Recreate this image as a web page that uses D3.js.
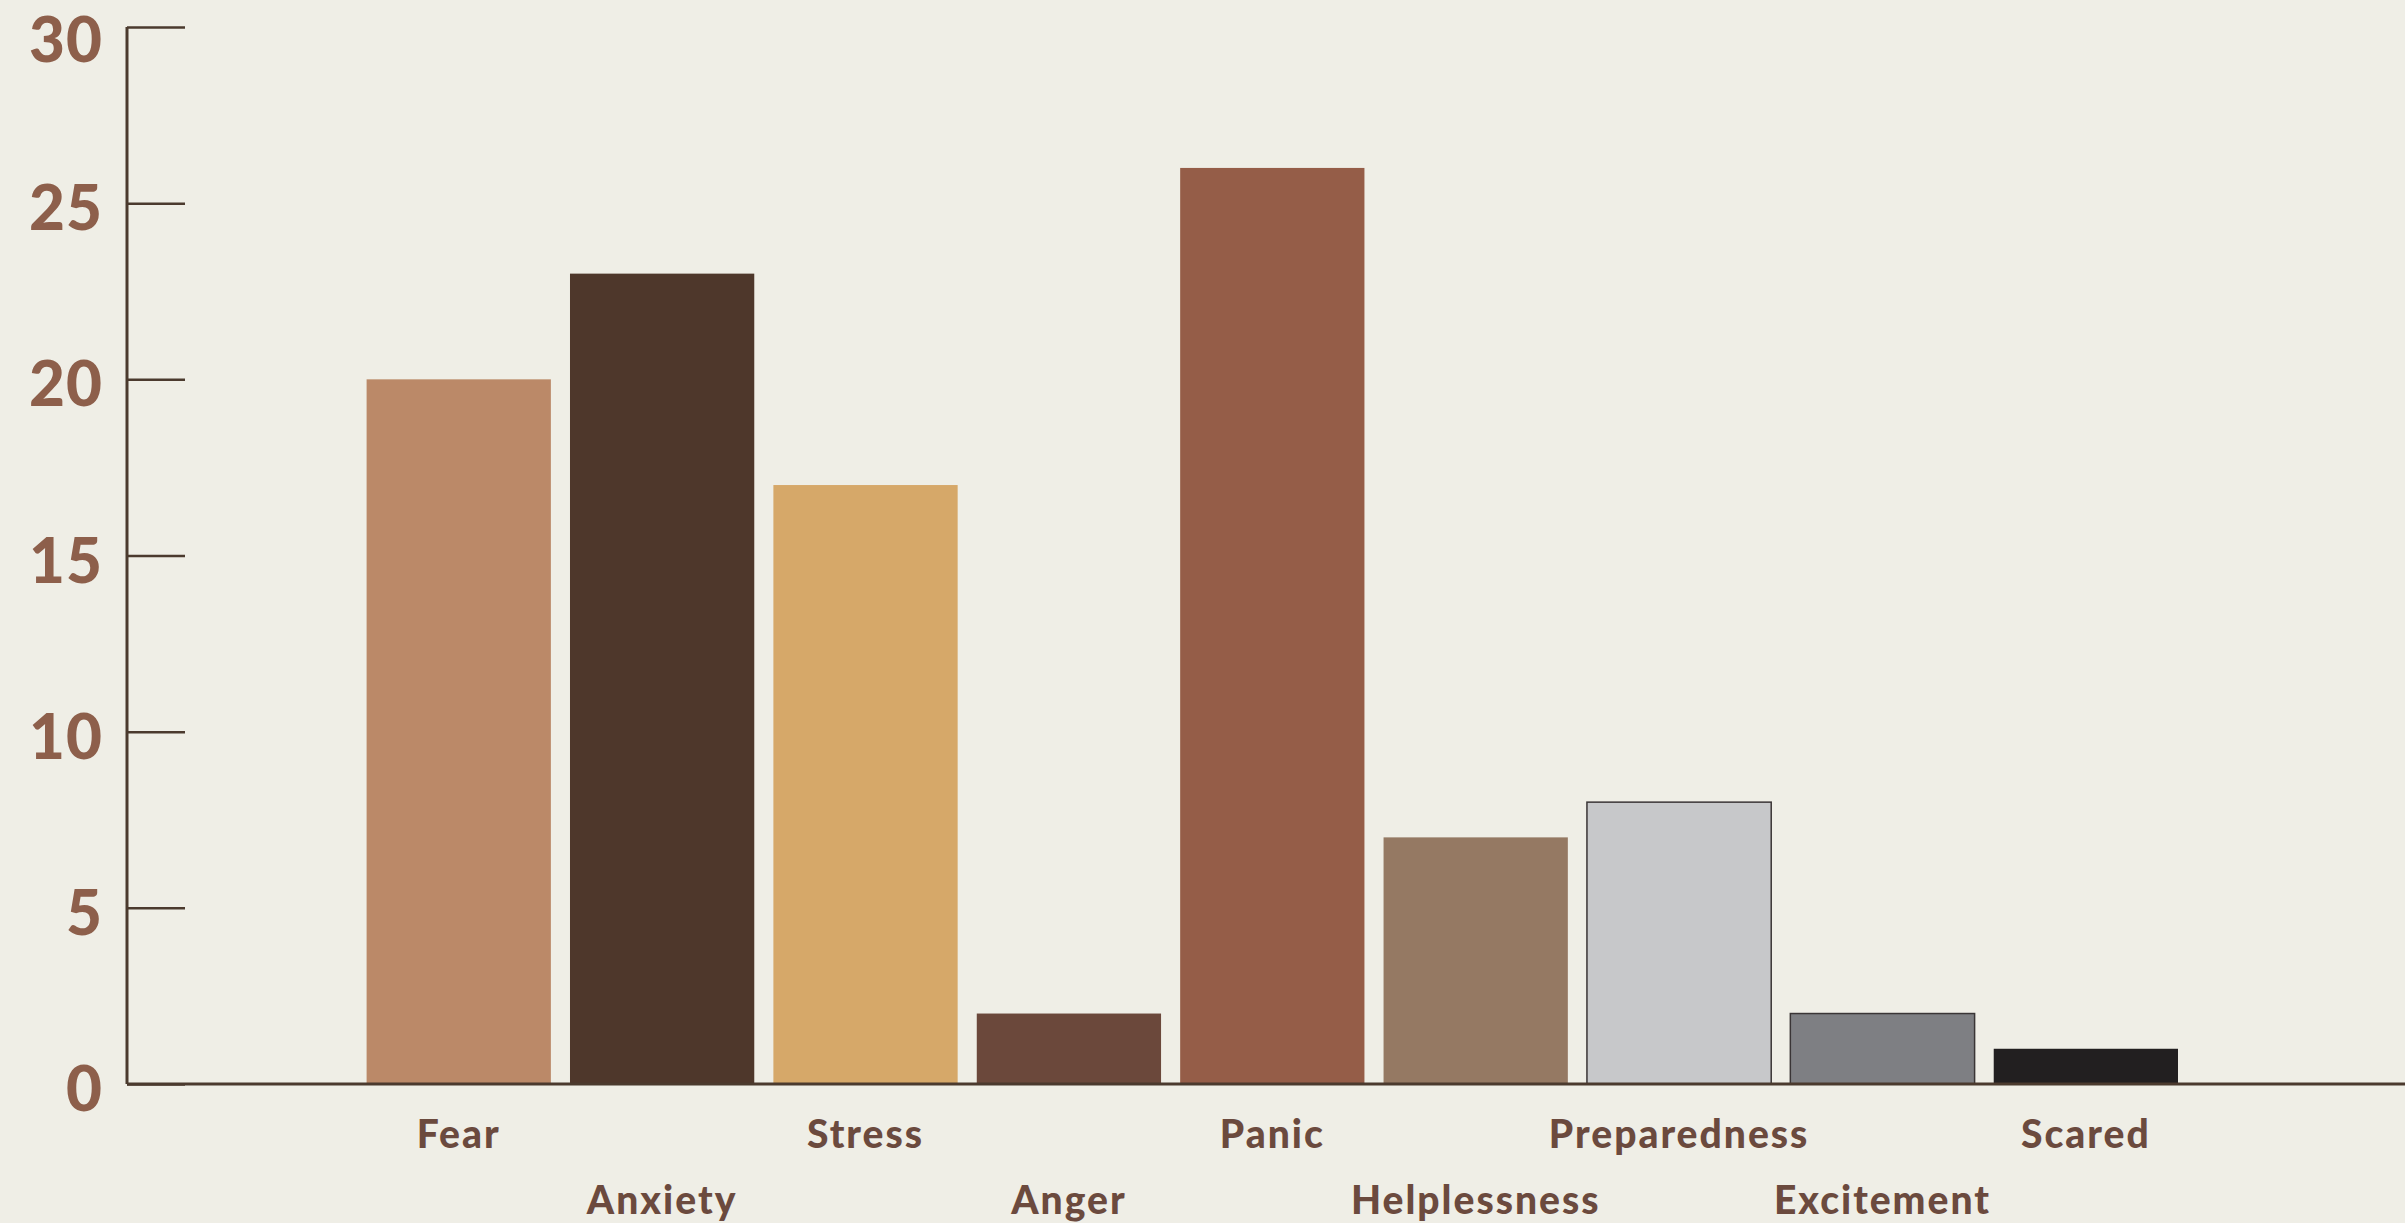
<!DOCTYPE html>
<html>
<head>
<meta charset="utf-8">
<script src="https://cdn.jsdelivr.net/npm/d3@7"></script>
<style>
  html, body { margin: 0; padding: 0; background: #EFEEE6; }
  svg { display: block; }
</style>
</head>
<body>
<svg id="chart" width="2405" height="1223"></svg>
<script>
const categories = ["Fear", "Anxiety", "Stress", "Anger", "Panic", "Helplessness", "Preparedness", "Excitement", "Scared"];
const values = [20, 23, 17, 2, 26, 7, 8, 2, 1];
const barColors = ["#BB8968", "#4E372B", "#D6A869", "#6B483B", "#955D48", "#957963", "#C7C8CA", "#7E7F83", "#221F20"];
const outlined = [false, false, false, false, false, false, true, true, false];
const yTicks = [0, 5, 10, 15, 20, 25, 30];

const W = 2405, H = 1223;
const svg = d3.select("#chart");
svg.append("rect").attr("width", W).attr("height", H).attr("fill", "#EFEEE6");

const axisX = 127, y0 = 1084, yTop = 27;
const x = d3.scaleBand().domain(categories).range([366.6, 2178]).paddingInner(0.094).paddingOuter(0);
const y = d3.scaleLinear().domain([0, 30]).range([y0, yTop]);

// bars
svg.append("g").selectAll("rect").data(categories).join("rect")
  .attr("x", d => x(d))
  .attr("y", (d, i) => y(values[i]))
  .attr("width", x.bandwidth())
  .attr("height", (d, i) => y0 - y(values[i]))
  .attr("fill", (d, i) => barColors[i])
  .attr("stroke", (d, i) => outlined[i] ? "#3a3536" : "none")
  .attr("stroke-width", 1.5);

const axisColor = "#4B3A2E";

// y axis (ticks pointing right, labels on left)
const yAxis = d3.axisRight(y).tickValues(yTicks).tickSize(58).tickFormat("");
const gy = svg.append("g").attr("transform", `translate(${axisX},0)`).call(yAxis);
gy.select(".domain").remove();
gy.selectAll(".tick line").attr("stroke", axisColor).attr("stroke-width", 2.5);
svg.append("line").attr("x1", axisX).attr("x2", axisX).attr("y1", yTop).attr("y2", y0)
  .attr("stroke", axisColor).attr("stroke-width", 3);

svg.append("g").selectAll("text").data(yTicks).join("text")
  .attr("x", 103)
  .attr("y", d => d === 30 ? 62 : y(d) + 27)
  .attr("text-anchor", "end")
  .attr("font-family", "Lato, 'Open Sans', sans-serif")
  .attr("font-weight", 900)
  .attr("font-size", 62)
  .attr("letter-spacing", 1)
  .attr("fill", "#8D5F4B")
  .text(d => d);

// x axis line
const xAxis = d3.axisBottom(x).tickSize(0).tickFormat("");
const gx = svg.append("g").attr("transform", `translate(0,${y0})`).call(xAxis);
gx.select(".domain").remove();
svg.append("line").attr("x1", axisX).attr("x2", W).attr("y1", y0).attr("y2", y0)
  .attr("stroke", axisColor).attr("stroke-width", 3);

// x labels, staggered
svg.append("g").selectAll("text").data(categories).join("text")
  .attr("x", d => x(d) + x.bandwidth() / 2)
  .attr("y", (d, i) => i % 2 === 0 ? 1148 : 1214)
  .attr("text-anchor", "middle")
  .attr("font-family", "Lato, 'Open Sans', sans-serif")
  .attr("font-weight", 900)
  .attr("font-size", 39)
  .attr("letter-spacing", 2)
  .attr("fill", "#6B4A3E")
  .text(d => d);
</script>
</body>
</html>
